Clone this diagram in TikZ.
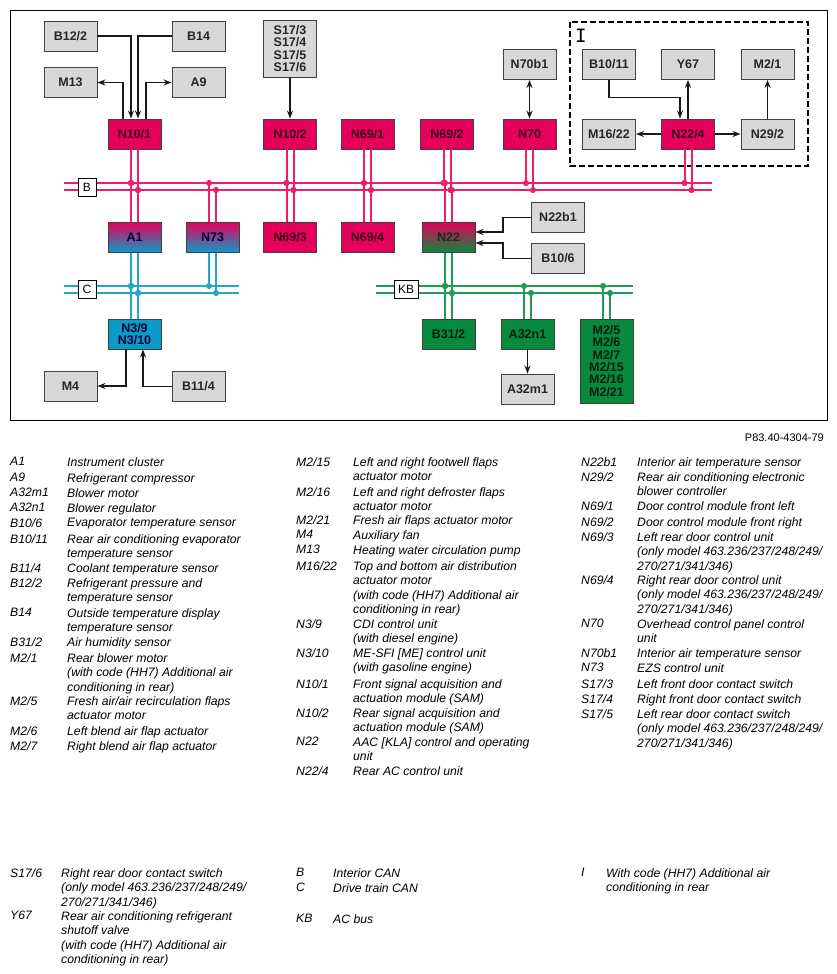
\documentclass[tikz,border=0pt]{standalone}
\usepackage{fontspec}
\setmainfont{Liberation Sans}
\usetikzlibrary{arrows.meta}

\definecolor{boxgray}{HTML}{D8D8D8}
\definecolor{boxpink}{HTML}{E6005C}
\definecolor{boxblue}{HTML}{0A9BC9}
\definecolor{boxgreen}{HTML}{078A3E}
\definecolor{linepink}{HTML}{EE1D6E}
\definecolor{lineblue}{HTML}{22A8C4}
\definecolor{linegreen}{HTML}{1F9A58}

\tikzset{
    unit/.style={draw=black!75, line width=0.9pt, inner sep=0pt, minimum width=53pt, minimum height=30pt,
        align=center, font=\fontsize{12.5}{12.3}\selectfont\bfseries},
    grayunit/.style={unit, fill=boxgray, text=black!85},
    pinkunit/.style={unit, fill=boxpink, text=black!75!boxpink},
    blueunit/.style={unit, fill=boxblue, text=black!80!blue},
    greenunit/.style={unit, fill=boxgreen, text=black!80!boxgreen},
    busname/.style={draw=black, fill=white, line width=0.7pt, inner sep=0pt, minimum height=18pt, font=\fontsize{12}{12}\selectfont},
    sig/.style={line width=1.6pt, black!90, -{Stealth[length=8pt,width=6pt]}},
    busdot/.style={-{Circle[length=6pt]}, shorten >=-3pt},
    pinkbus/.style={linepink, line width=1.6pt},
    bluebus/.style={lineblue, line width=1.6pt},
    greenbus/.style={linegreen, line width=1.6pt},
    drop/.style={line width=2pt, busdot},
    legkey/.style={anchor=north west, inner sep=0pt, yshift=4pt, font=\fontsize{12.2}{14.6}\selectfont\itshape},
    legtext/.style={legkey, align=left},
}

\begin{document}
\begin{tikzpicture}[x=1pt,y=-1pt]
    \useasboundingbox (0,0) rectangle (837,974);

    %frame
    \draw[line width=0.7pt] (10,10) rectangle (827,420);
    \draw[line width=1.3pt, dash pattern=on 6pt off 3pt] (570,22) rectangle (808,166);
    \node[inner sep=0pt, font=\fontsize{22}{22}\selectfont\bfseries\ttfamily] (optI) at (581,36) {I};

    %top row
    \node[grayunit] (b122) at (70.5,36) {B12/2};
    \node[grayunit] (b14) at (198.5,36) {B14};
    \node[grayunit] (m13) at (70.5,82.5) {M13};
    \node[grayunit] (a9) at (198.5,82.5) {A9};
    \node[grayunit, minimum height=57pt] (s17) at (290,48.5) {S17/3\\S17/4\\S17/5\\S17/6};
    \node[grayunit] (n70b1) at (529.5,64.5) {N70b1};

    %control units above bus B
    \node[pinkunit] (n101) at (134.5,134) {N10/1};
    \node[pinkunit] (n102) at (290,134) {N10/2};
    \node[pinkunit] (n691) at (367.5,134) {N69/1};
    \node[pinkunit] (n692) at (447,134) {N69/2};
    \node[pinkunit] (n70) at (529.5,134) {N70};

    %optional group
    \node[grayunit] (b1011) at (609,64.5) {B10/11};
    \node[grayunit] (y67) at (688,64.5) {Y67};
    \node[grayunit] (m21) at (767.5,64.5) {M2/1};
    \node[grayunit] (m1622) at (609,134) {M16/22};
    \node[pinkunit] (n224) at (688,134) {N22/4};
    \node[grayunit] (n292) at (767.5,134) {N29/2};

    %units below bus B
    \node[unit, top color=boxpink, bottom color=boxblue, text=black!80!blue] (a1) at (134.5,237.5) {A1};
    \node[unit, top color=boxpink, bottom color=boxblue, text=black!80!blue] (n73) at (212.5,237.5) {N73};
    \node[pinkunit] (n693) at (290,237.5) {N69/3};
    \node[pinkunit] (n694) at (367.5,237.5) {N69/4};
    \node[unit, top color=boxpink, bottom color=boxgreen, text=black!85] (n22) at (448.5,237.5) {N22};
    \node[grayunit] (n22b1) at (558,217.5) {N22b1};
    \node[grayunit] (b106) at (558,258.5) {B10/6};

    %units below buses C and KB
    \node[blueunit] (n3) at (134.5,334) {N3/9\\N3/10};
    \node[grayunit] (m4) at (70.5,386) {M4};
    \node[grayunit] (b114) at (198.5,386.5) {B11/4};
    \node[greenunit] (b312) at (448.5,334) {B31/2};
    \node[greenunit] (a32n1) at (527.5,334) {A32n1};
    \node[grayunit] (a32m1) at (527.5,389) {A32m1};
    \node[greenunit, minimum height=84pt] (m2x) at (606.5,361) {M2/5\\M2/6\\M2/7\\M2/15\\M2/16\\M2/21};

    %buses
    \coordinate (busBa) at (64,183);
    \coordinate (busBb) at (64,190);
    \coordinate (busCa) at (64,286);
    \coordinate (busCb) at (64,293);
    \coordinate (busKa) at (376,286);
    \coordinate (busKb) at (376,293);
    \coordinate (endBa) at (712,183);
    \coordinate (endBb) at (712,190);
    \coordinate (endCa) at (239,286);
    \coordinate (endCb) at (239,293);
    \coordinate (endKa) at (633,286);
    \coordinate (endKb) at (633,293);
    \draw[pinkbus] (busBa) -- (endBa);
    \draw[pinkbus] (busBb) -- (endBb);
    \draw[bluebus] (busCa) -- (endCa);
    \draw[bluebus] (busCb) -- (endCb);
    \draw[greenbus] (busKa) -- (endKa);
    \draw[greenbus] (busKb) -- (endKb);
    \node[busname, minimum width=18pt] (nameB) at (87,187) {B};
    \node[busname, minimum width=18pt] (nameC) at (87,289) {C};
    \node[busname, minimum width=24pt] (nameKB) at (406,289) {KB};

    %bus drops
    \foreach \n in {n101,n102,n691,n692,n70,n224}{
        \draw[pinkbus,drop] ([xshift=-3.5pt]\n.south) -- ([xshift=-3.5pt]\n.south |- busBa);
        \draw[pinkbus,drop] ([xshift=3.5pt]\n.south) -- ([xshift=3.5pt]\n.south |- busBb);
    }
    \foreach \n in {a1,n73,n693,n694,n22}{
        \draw[pinkbus,drop] ([xshift=-3.5pt]\n.north) -- ([xshift=-3.5pt]\n.north |- busBa);
        \draw[pinkbus,drop] ([xshift=3.5pt]\n.north) -- ([xshift=3.5pt]\n.north |- busBb);
    }
    \foreach \n in {a1,n73}{
        \draw[bluebus,drop] ([xshift=-3.5pt]\n.south) -- ([xshift=-3.5pt]\n.south |- busCa);
        \draw[bluebus,drop] ([xshift=3.5pt]\n.south) -- ([xshift=3.5pt]\n.south |- busCb);
    }
    \draw[bluebus,drop] ([xshift=-3.5pt]n3.north) -- ([xshift=-3.5pt]n3.north |- busCa);
    \draw[bluebus,drop] ([xshift=3.5pt]n3.north) -- ([xshift=3.5pt]n3.north |- busCb);
    \draw[greenbus,drop] ([xshift=-3.5pt]n22.south) -- ([xshift=-3.5pt]n22.south |- busKa);
    \draw[greenbus,drop] ([xshift=3.5pt]n22.south) -- ([xshift=3.5pt]n22.south |- busKb);
    \foreach \n in {b312,a32n1,m2x}{
        \draw[greenbus,drop] ([xshift=-3.5pt]\n.north) -- ([xshift=-3.5pt]\n.north |- busKa);
        \draw[greenbus,drop] ([xshift=3.5pt]\n.north) -- ([xshift=3.5pt]\n.north |- busKb);
    }

    %signals
    \draw[sig] (b122.east) -| ([xshift=-3.5pt]n101.north);
    \draw[sig] (b14.west) -| ([xshift=3.5pt]n101.north);
    \draw[sig] ([xshift=-11.5pt]n101.north) |- (m13.east);
    \draw[sig] ([xshift=11.5pt]n101.north) |- (a9.west);
    \draw[sig] (s17.south) -- (n102.north);
    \draw[sig,{Stealth[length=8pt,width=6pt]}-{Stealth[length=8pt,width=6pt]}] (n70b1.south) -- (n70.north);
    \draw[sig] (b1011.south) |- ([xshift=-8pt,yshift=21pt]n224.north) -- ([xshift=-8pt]n224.north);
    \draw[sig] (n224.north) -- (y67.south);
    \draw[sig, line width=1pt] (n292.north) -- (m21.south);
    \draw[sig] (n224.west) -- (m1622.east);
    \draw[sig] (n224.east) -- (n292.west);
    \draw[sig] ([xshift=-8.5pt]n3.south) |- (m4.east);
    \draw[sig] (b114.west) -| ([xshift=8.5pt]n3.south);
    \draw[sig] (n22b1.west) -- ++(-28,0) |- ([yshift=5.5pt]n22.east);
    \draw[sig] (b106.west) -- ++(-28,0) |- ([yshift=-5.5pt]n22.east);
    \draw[sig] (a32n1.south) -- (a32m1.north);

    %part number
    \node[anchor=east, inner sep=0pt, font=\fontsize{11}{11}\selectfont] (partno) at (824,438) {P83.40-4304-79};

    %legend, first column
    \foreach \ypos/\tag/\desc [count=\i] in {
        461/A1/{Instrument cluster},
        477/A9/{Refrigerant compressor},
        492/A32m1/{Blower motor},
        507/A32n1/{Blower regulator},
        522/{B10/6}/{Evaporator temperature sensor},
        538/{B10/11}/{Rear air conditioning evaporator\\temperature sensor},
        567/{B11/4}/{Coolant temperature sensor},
        582/{B12/2}/{Refrigerant pressure and\\temperature sensor},
        612/B14/{Outside temperature display\\temperature sensor},
        641/{B31/2}/{Air humidity sensor},
        657/{M2/1}/{Rear blower motor\\(with code (HH7) Additional air\\conditioning in rear)},
        700/{M2/5}/{Fresh air/air recirculation flaps\\actuator motor},
        730/{M2/6}/{Left blend air flap actuator},
        745/{M2/7}/{Right blend air flap actuator}}{
        \node[legkey] (keyA\i) at (10,\ypos) {\tag};
        \node[legtext] (txtA\i) at (67,\ypos) {\desc};
    }

    %legend, second column
    \foreach \ypos/\tag/\desc [count=\i] in {
        461/{M2/15}/{Left and right footwell flaps\\actuator motor},
        491/{M2/16}/{Left and right defroster flaps\\actuator motor},
        519/{M2/21}/{Fresh air flaps actuator motor},
        534/M4/{Auxiliary fan},
        549/M13/{Heating water circulation pump},
        565/{M16/22}/{Top and bottom air distribution\\actuator motor\\(with code (HH7) Additional air\\conditioning in rear)},
        623/{N3/9}/{CDI control unit\\(with diesel engine)},
        652/{N3/10}/{ME-SFI [ME] control unit\\(with gasoline engine)},
        683/{N10/1}/{Front signal acquisition and\\actuation module (SAM)},
        712/{N10/2}/{Rear signal acquisition and\\actuation module (SAM)},
        741/N22/{AAC [KLA] control and operating\\unit},
        770/{N22/4}/{Rear AC control unit}}{
        \node[legkey] (keyB\i) at (296,\ypos) {\tag};
        \node[legtext] (txtB\i) at (353,\ypos) {\desc};
    }

    %legend, third column
    \foreach \ypos/\tag/\desc [count=\i] in {
        461/N22b1/{Interior air temperature sensor},
        476/{N29/2}/{Rear air conditioning electronic\\blower controller},
        505/{N69/1}/{Door control module front left},
        521/{N69/2}/{Door control module front right},
        536/{N69/3}/{Left rear door control unit\\(only model 463.236/237/248/249/\\270/271/341/346)},
        579/{N69/4}/{Right rear door control unit\\(only model 463.236/237/248/249/\\270/271/341/346)},
        623/N70/{Overhead control panel control\\unit},
        652/N70b1/{Interior air temperature sensor},
        667/N73/{EZS control unit},
        683/{S17/3}/{Left front door contact switch},
        698/{S17/4}/{Right front door contact switch},
        713/{S17/5}/{Left rear door contact switch\\(only model 463.236/237/248/249/\\270/271/341/346)}}{
        \node[legkey] (keyC\i) at (581,\ypos) {\tag};
        \node[legtext] (txtC\i) at (637,\ypos) {\desc};
    }

    %legend, bottom part
    \node[legkey] (keyD1) at (10,872) {S17/6};
    \node[legtext] (txtD1) at (61,872) {Right rear door contact switch\\(only model 463.236/237/248/249/\\270/271/341/346)};
    \node[legkey] (keyD2) at (10,915) {Y67};
    \node[legtext] (txtD2) at (61,915) {Rear air conditioning refrigerant\\shutoff valve\\(with code (HH7) Additional air\\conditioning in rear)};
    \node[legkey] (keyE1) at (296,872) {B};
    \node[legtext] (txtE1) at (333,872) {Interior CAN};
    \node[legkey] (keyE2) at (296,887) {C};
    \node[legtext] (txtE2) at (333,887) {Drive train CAN};
    \node[legkey] (keyE3) at (296,918) {KB};
    \node[legtext] (txtE3) at (333,918) {AC bus};
    \node[legkey] (keyF1) at (581,872) {I};
    \node[legtext] (txtF1) at (606,872) {With code (HH7) Additional air\\conditioning in rear};
\end{tikzpicture}
\end{document}
